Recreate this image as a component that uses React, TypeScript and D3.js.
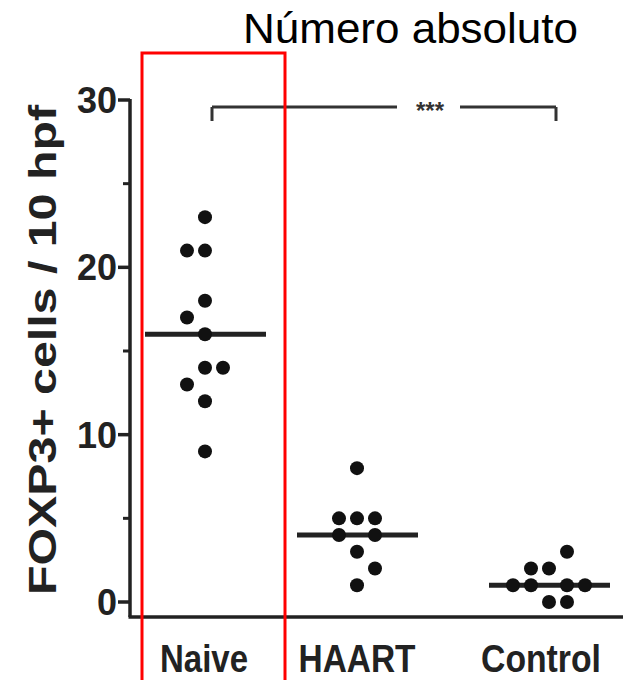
import React from "react";
import * as d3 from "d3";

const categories = ["Naive", "HAART", "Control"];
const naiveValues = [23, 21, 21, 18, 17, 16, 14, 14, 13, 12, 9];
const naiveSlots = [0, -1, 0, 0, -1, 0, 0, 1, -1, 0, 0];
const haartValues = [8, 5, 5, 5, 4, 4, 3, 2, 1];
const haartSlots = [0, -1, 0, 1, -1, 1, 0, 1, 0];
const controlValues = [3, 2, 2, 1, 1, 1, 1, 0, 0];
const controlSlots = [1, -1, 0, -2, -1, 1, 2, 0, 1];
const medians = [16, 4, 1];
const majorTicks = [0, 10, 20, 30];
const minorTicks = [5, 15, 25];
const title = "Número absoluto";
const yLabel = "FOXP3+ cells / 10 hpf";
const sigLabel = "***";

const series = [
  { values: naiveValues, slots: naiveSlots },
  { values: haartValues, slots: haartSlots },
  { values: controlValues, slots: controlSlots },
];

export default function App() {
  const W = 623;
  const H = 680;
  const y = d3.scaleLinear().domain([0, 30]).range([602, 100]);
  const x = d3.scaleOrdinal<string, number>().domain(categories).range([205, 357, 549]);
  const slotW = 18;
  const axisX = 130;
  const axisBottom = 617;
  const font = "'Liberation Sans', Arial, Helvetica, sans-serif";
  const ink = "#222";
  const labelWidths = [88, 117, 120];

  return (
    <svg width={W} height={H} style={{ position: "absolute", left: 0, top: 0, background: "#fff" }}>
      {/* title */}
      <text x={243} y={43} fontFamily={font} fontSize={42} fill="#000" textLength={335} lengthAdjust="spacingAndGlyphs">
        {title}
      </text>

      {/* axes */}
      <line x1={axisX} x2={axisX} y1={y(30) - 1} y2={axisBottom} stroke={ink} strokeWidth={3.5} />
      <line x1={axisX - 1.5} x2={W} y1={axisBottom} y2={axisBottom} stroke={ink} strokeWidth={3.5} />
      {majorTicks.map((t) => (
        <g key={"M" + t}>
          <line x1={axisX - 12} x2={axisX} y1={y(t)} y2={y(t)} stroke={ink} strokeWidth={3.5} />
          <text x={axisX - 13} y={y(t)} dy="0.36em" textAnchor="end" fontFamily={font} fontWeight="bold" fontSize={36} fill={ink}>
            {t}
          </text>
        </g>
      ))}
      {minorTicks.map((t) => (
        <line key={"m" + t} x1={axisX - 7} x2={axisX} y1={y(t)} y2={y(t)} stroke={ink} strokeWidth={3} />
      ))}

      {/* y label */}
      <text
        transform={`translate(56, 350) rotate(-90)`}
        textAnchor="middle"
        fontFamily={font}
        fontWeight="bold"
        fontSize={38}
        fill={ink}
        textLength={490}
        lengthAdjust="spacingAndGlyphs"
      >
        {yLabel}
      </text>

      {/* category labels */}
      {categories.map((c, i) => (
        <text
          key={c}
          x={x(c) - labelWidths[i] / 2 + (i === 0 ? -1 : i === 2 ? -8 : 0)}
          y={672}
          fontFamily={font}
          fontWeight="bold"
          fontSize={39}
          fill={ink}
          textLength={labelWidths[i]}
          lengthAdjust="spacingAndGlyphs"
        >
          {c}
        </text>
      ))}

      {/* medians */}
      {medians.map((m, i) => (
        <line
          key={"med" + i}
          x1={x(categories[i]) - 60}
          x2={x(categories[i]) + 61}
          y1={y(m)}
          y2={y(m)}
          stroke="#222"
          strokeWidth={5}
        />
      ))}

      {/* dots */}
      {series.map((s, i) =>
        s.values.map((v, j) => (
          <circle key={i + "-" + j} cx={x(categories[i]) + s.slots[j] * slotW} cy={y(v)} r={7} fill="#111" />
        ))
      )}

      {/* significance bracket */}
      {(() => {
        const by = 107;
        const x1 = x(categories[0]) + 7;
        const x2 = x(categories[2]) + 7;
        return (
          <g stroke="#333" strokeWidth={3} fill="none">
            <line x1={x1} x2={397} y1={by} y2={by} />
            <line x1={460} x2={x2} y1={by} y2={by} />
            <line x1={x1} x2={x1} y1={by} y2={by + 14} />
            <line x1={x2} x2={x2} y1={by} y2={by + 14} />
            <text x={430} y={119} textAnchor="middle" fontFamily={font} fontWeight="bold" fontSize={24} fill="#333" stroke="none">
              {sigLabel}
            </text>
          </g>
        );
      })()}

      {/* red highlight box */}
      <rect x={142} y={53} width={143} height={640} fill="none" stroke="#f00" strokeWidth={3} />
    </svg>
  );
}
